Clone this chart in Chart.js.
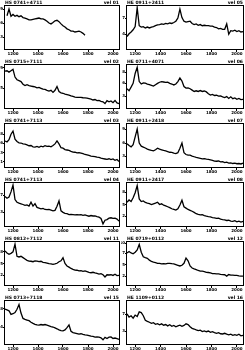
<!DOCTYPE html>
<html>
<head>
<meta charset="utf-8">
<script src="https://cdn.jsdelivr.net/npm/chart.js@4.4.1/dist/chart.umd.min.js"></script>
<style>
    html, body { margin: 0; padding: 0; background: #fff; }
    body { width: 245px; height: 350px; position: relative; overflow: hidden; }
    .panel { position: absolute; }
</style>
</head>
<body>
<script>
// rest wavelength grid (Angstrom), shared by every panel
const wave = [1136,1152,1168,1184,1200,1216,1232,1248,1264,1280,1296,1312,1328,1344,1360,1376,1392,1408,1424,1440,
              1456,1472,1488,1504,1520,1536,1552,1568,1584,1600,1616,1632,1648,1664,1680,1696,1712,1728,1744,1760,
              1776,1792,1808,1824,1840,1856,1872,1888,1904,1920,1936,1952,1968,1984,2000,2016,2032,2048];
const xTicks = [1200, 1400, 1600, 1800, 2000];

const names = ["HS 0741+4711", "HE 0911+2411", "HS 0715+7111", "HE 0711+4071", "HS 0741+7113", "HE 0911+2418",
               "HS 0741+7113", "HE 0911+2417", "HS 0812+7112", "HE 0719+0112", "HS 0713+7118", "HE 1109+0112"];
const tags = ["vel 01", "vel 05", "vel 02", "vel 06", "vel 03", "vel 07", "vel 04", "vel 08", "vel 11", "vel 12", "vel 15", "vel 16"];

const fluxL1 = [null,7.6,9.1,7.5,7.9,7.5,7.7,7.4,7.6,7.2, 7.1,6.9,6.7,6.7,6.8,6.9,7.0,7.1,6.9,6.9,
                6.7,6.4,6.0,5.8,6.1,6.5,6.6,6.3,5.8,5.4, 5.1,4.7,4.5,4.2,4.2,4.0,4.1,4.2,4.0,3.7,
                3.3,null,null,null,null,null,null,null,null,null, null,null,null,null,null,null,null,null];
const fluxR1 = [3.0,3.6,4.0,4.5,5.2,9.4,5.4,5.1,5.2,4.9, 5.1,4.9,5.1,5.2,5.4,5.6,5.65,5.8,5.7,5.9,
                5.8,6.0,5.9,6.1,6.4,7.1,9.1,7.2,6.4,6.2, 6.3,6.4,5.9,5.65,5.8,5.5,5.65,5.4,5.5,5.4,
                5.4,5.3,5.3,5.1,5.0,4.7,4.8,4.6,4.6,5.8, 3.5,4.3,4.2,4.4,4.1,4.3,4.0,4.1];
const fluxL2 = [8.4,8.5,8.2,8.5,8.8,7.1,6.5,6.3,6.1,5.5, 5.2,5.4,5.2,5.1,5.0,4.9,4.7,4.8,4.6,4.4,
                4.35,4.15,4.0,4.15,3.7,4.15,5.0,3.9,3.6,3.5, 3.3,3.2,3.1,2.9,2.8,2.65,2.6,2.6,2.6,2.5,
                2.45,2.4,2.3,2.2,2.0,2.1,1.85,1.9,1.7,1.6, 1.2,1.85,1.6,1.8,1.4,1.9,1.35,1.2];
const fluxR2 = [4.5,4.05,4.85,5.7,7.9,9.25,6.1,5.55,5.8,5.75, 5.55,5.4,5.25,5.1,5.4,5.7,5.95,6.1,6.0,5.9,
                5.95,5.7,5.55,5.35,5.55,6.1,6.9,6.2,5.0,4.65, 4.7,4.5,4.2,3.9,4.05,3.9,4.1,3.9,4.0,3.8,
                3.4,3.1,3.25,3.0,3.05,2.85,2.9,2.7,2.55,2.75, 2.35,2.7,2.3,2.45,2.15,2.35,2.1,2.15];
const fluxL3 = [6.0,5.8,6.3,7.5,8.2,6.4,5.9,5.6,5.55,5.35, 5.3,5.15,4.95,5.0,4.7,4.65,4.8,4.6,4.85,4.7,
                4.95,4.8,4.85,4.7,5.0,5.35,6.0,5.35,4.5,4.4, 4.1,4.0,3.9,3.7,3.55,3.5,3.35,3.4,3.3,3.2,
                3.0,2.9,2.8,2.65,2.6,2.55,2.4,2.35,2.2,2.1, 2.0,1.9,2.05,1.85,2.0,1.7,1.9,1.45];
const fluxR3 = [5.4,5.0,4.7,5.2,6.9,8.65,5.55,4.85,4.65,4.45, 4.2,4.05,3.9,3.8,4.05,4.4,4.2,4.05,3.9,3.8,
                3.65,3.5,3.45,3.3,3.2,3.4,4.4,5.55,3.4,3.0, 2.85,2.85,2.65,2.5,2.35,2.25,2.15,2.05,2.1,1.95,
                1.9,1.8,1.7,1.55,1.5,1.55,1.35,1.4,1.2,1.3, 1.1,1.15,1.0,1.1,0.95,1.0,0.9,1.1];
const fluxL4 = [6.8,6.4,6.65,7.8,9.3,6.1,5.5,5.3,5.15,5.0, 4.8,4.9,4.65,5.5,4.65,5.2,4.35,4.2,4.05,4.15,
                3.9,3.85,3.9,3.75,3.6,3.7,4.6,5.8,3.6,3.25, 3.05,2.95,2.75,2.8,2.75,2.7,2.75,2.7,2.75,2.6,
                2.7,2.55,2.4,2.55,2.45,2.45,2.3,2.2,1.9,0.7, 1.5,1.65,1.95,2.05,1.9,1.95,1.75,1.3];
const fluxR4 = [5.5,6.0,5.65,6.5,7.6,9.2,6.25,5.65,5.8,5.45, 5.3,5.2,5.0,5.15,5.3,5.5,5.0,5.15,4.85,4.7,
                4.5,4.3,4.05,3.9,3.75,4.05,4.9,5.95,4.5,4.2, 3.9,3.7,3.5,3.25,2.95,2.8,2.7,2.75,2.55,2.4,
                2.3,2.25,2.1,2.05,1.9,1.95,1.75,1.65,1.6,1.45, 1.5,1.3,1.25,1.4,1.15,1.3,1.1,1.25];
const fluxL5 = [7.8,7.35,7.05,7.25,7.6,9.3,6.6,6.45,6.6,6.3, 6.0,5.7,5.55,5.5,5.4,5.6,5.55,5.4,5.5,5.25,
                5.2,5.1,4.95,4.9,4.8,4.9,5.05,5.4,5.6,6.3, 5.0,4.45,4.2,3.9,3.7,3.55,3.5,3.35,3.4,3.25,
                3.35,3.2,3.05,2.95,3.05,2.9,2.8,2.65,2.75,2.5, 2.0,2.5,2.45,2.5,2.35,2.6,2.3,2.35];
const fluxR5 = [7.35,7.65,7.35,7.15,7.5,8.0,9.25,7.5,6.5,6.3, 6.15,5.75,5.45,5.3,5.2,5.05,5.05,4.9,4.95,4.9,
                5.05,5.05,4.95,4.9,4.75,4.6,4.45,4.6,5.05,6.2, 5.6,4.45,4.0,3.8,3.65,3.45,3.3,3.3,3.2,3.05,
                3.0,2.9,2.75,2.75,2.7,2.7,2.6,2.55,2.5,2.2, 2.55,2.4,2.4,2.35,2.35,2.25,2.2,2.2];
const fluxL6 = [7.95,7.8,7.6,6.8,6.95,7.2,7.95,9.0,7.1,5.9, 5.7,5.55,5.4,5.05,4.8,4.6,4.45,4.4,4.55,4.45,
                4.55,4.4,4.25,4.1,4.0,3.8,3.6,3.35,3.2,3.15, 3.35,3.85,4.45,3.05,2.75,2.65,2.55,2.4,2.5,2.35,
                2.25,2.2,2.1,1.95,1.9,1.75,1.8,1.75,1.6,1.15, 1.7,1.45,1.75,1.8,1.45,1.55,1.4,1.25];
const fluxR6 = [6.9,6.2,6.5,5.95,6.65,6.35,7.35,7.2,6.5,5.5, 5.25,5.05,4.8,4.95,4.6,4.75,4.5,4.7,4.4,4.55,
                4.25,4.5,4.15,4.35,4.05,4.25,4.4,4.15,4.35,4.7, 4.55,4.05,3.7,3.55,3.35,3.2,3.3,3.0,3.15,2.95,
                3.1,2.8,2.95,2.75,2.6,2.75,2.5,2.45,2.6,2.4, 2.25,2.4,2.15,2.3,2.15,2.4,2.05,2.15];

// y tick positions per panel (same flux units as above)
const yTicks = [[2.8,5.9,9.1], [3.5,7.1], [4.6,9.2], [2.8,5.7,8.2], [1.4,3.4,5.5,7.5], [2.6,5.5,8.6],
                [3.3,7.1], [2.4,4.9,7.7], [2.4,5.0,7.6], [2.2,4.7,7.3,9.5], [3.9,8.0], [3.1,6.8]];

const allFlux = [fluxL1, fluxR1, fluxL2, fluxR2, fluxL3, fluxR3, fluxL4, fluxR4, fluxL5, fluxR5, fluxL6, fluxR6];

const FONT = "'DejaVu Sans', sans-serif";

// frame + the two little headers over each box
const framePlugin = {
    id: 'frame',
    afterDraw(chart, args, opts) {
        const {ctx, chartArea: a} = chart;
        ctx.save();
        ctx.strokeStyle = '#000';
        ctx.lineWidth = 1;
        ctx.strokeRect(Math.round(a.left) + 0.5, Math.round(a.top) + 0.5, Math.round(a.width) - 1, Math.round(a.height) - 1);
        ctx.fillStyle = '#000';
        ctx.font = 'bold 4.5px ' + FONT;
        ctx.textBaseline = 'bottom';
        ctx.textAlign = 'left';
        ctx.fillText(opts.name, a.left + 1, a.top);
        ctx.textAlign = 'right';
        ctx.fillText(opts.tag, a.right - 1, a.top);
        ctx.restore();
    }
};

class SpectrumPanel {
    constructor(idx) {
        const col = idx % 2;
        const row = Math.floor(idx / 2);
        const w = col ? 124 : 121;
        const h = 58;
        const div = document.createElement('div');
        div.className = 'panel';
        div.style.left = (col ? 121 : 0) + 'px';
        div.style.top = (row * 59) + 'px';
        const canvas = document.createElement('canvas');
        canvas.width = w;
        canvas.height = h;
        div.appendChild(canvas);
        document.body.appendChild(div);

        const flux = allFlux[idx];
        const yt = yTicks[idx];
        const axisW = col ? 5 : 4;

        new Chart(canvas.getContext('2d'), {
            type: 'line',
            data: {
                datasets: [{
                    data: wave.map((x, i) => ({x: x, y: flux[i]})),
                    borderColor: '#000',
                    borderWidth: 1.3,
                    pointRadius: 0,
                    tension: 0,
                    spanGaps: false
                }]
            },
            options: {
                responsive: false,
                animation: false,
                devicePixelRatio: 1,
                layout: {padding: {top: 5, right: 1, left: 0, bottom: 0}},
                plugins: {
                    legend: {display: false},
                    tooltip: {enabled: false},
                    frame: {name: names[idx], tag: tags[idx]}
                },
                scales: {
                    x: {
                        type: 'linear',
                        min: 1128,
                        max: 2056,
                        afterBuildTicks: s => { s.ticks = xTicks.map(v => ({value: v})); },
                        afterFit: s => { s.height = 8; },
                        border: {display: false},
                        grid: {drawOnChartArea: false, tickLength: 2, color: '#000'},
                        ticks: {
                            color: '#000', padding: 0, maxRotation: 0, autoSkip: false,
                            font: {family: FONT, size: 4, weight: 'bold'},
                            callback: v => String(v)
                        }
                    },
                    y: {
                        min: 0,
                        max: 10,
                        afterBuildTicks: s => { s.ticks = yt.map(v => ({value: v})); },
                        afterFit: s => { s.width = axisW; },
                        border: {display: false},
                        grid: {drawOnChartArea: false, tickLength: 1, color: '#000'},
                        ticks: {
                            color: '#000', padding: 0,
                            font: {family: FONT, size: 4, weight: 'bold'},
                            callback: v => String(Math.round(v))
                        }
                    }
                }
            },
            plugins: [framePlugin]
        });
    }
}

document.addEventListener("DOMContentLoaded", () => {
    for (let i = 0; i < 12; i++) new SpectrumPanel(i);
});
</script>
</body>
</html>
